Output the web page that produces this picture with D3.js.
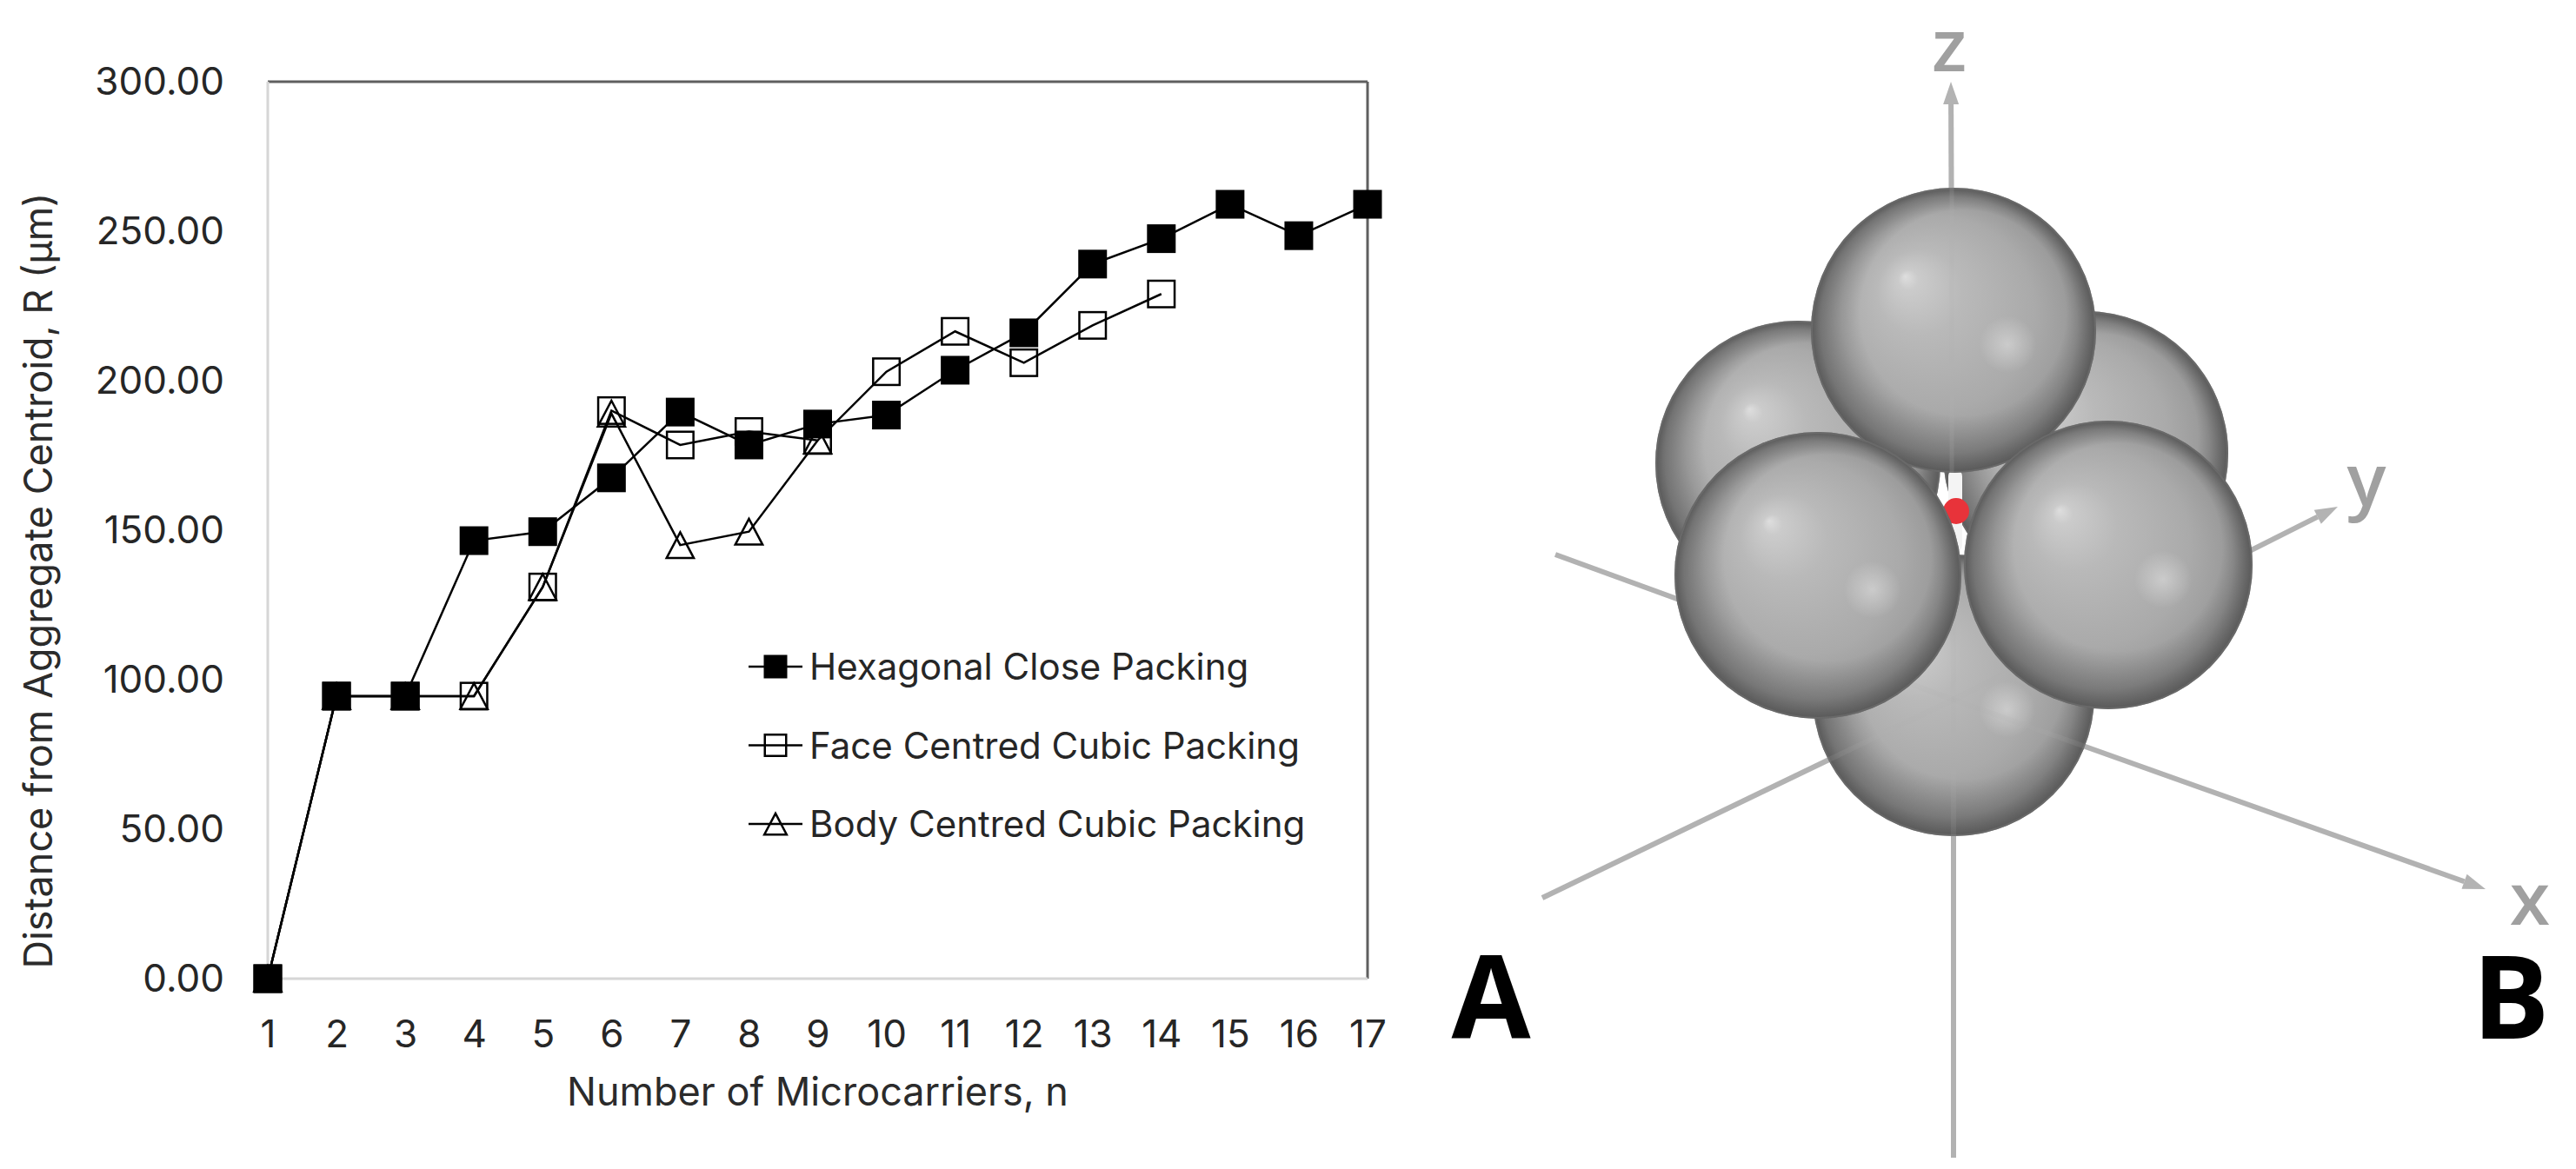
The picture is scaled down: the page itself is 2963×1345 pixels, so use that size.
<!DOCTYPE html>
<html>
<head>
<meta charset="utf-8">
<script src="https://cdn.jsdelivr.net/npm/d3@7"></script>
<style>
  html, body { margin: 0; padding: 0; background: #ffffff; }
  svg { display: block; }
</style>
</head>
<body>
<svg id="chart"></svg>
<script>
// data
const nValues = d3.range(1, 18);
const yTicks = [0, 50, 100, 150, 200, 250, 300];
const hcpValues = [0, 94.5, 94.5, 146.5, 149.5, 167.5, 189.5, 178.5, 185.5, 188.5, 203.5, 216, 239, 247.5, 259, 248.5, 259];
const fccValues = [0, 94.5, 94.5, 94.5, 131, 190, 178.5, 183, 180, 203, 216.5, 206, 218.5, 229];
const bccValues = [0, 94.5, 94.5, 94.5, 131, 189, 145, 149.5, 180];
const seriesNames = ["Hexagonal Close Packing", "Face Centred Cubic Packing", "Body Centred Cubic Packing"];

const width = 2963;
const height = 1345;
const plot = { left: 308, right: 1573, top: 94, bottom: 1126 };
const font = "Inter, 'Open Sans', sans-serif";

const svg = d3.select("#chart")
    .attr("width", width)
    .attr("height", height);

svg.append("rect").attr("width", width).attr("height", height).attr("fill", "#fff");

const x = d3.scaleLinear().domain([1, 17]).range([plot.left, plot.right]);
const y = d3.scaleLinear().domain([0, 300]).range([plot.bottom, plot.top]);

// frame: light axis lines, darker top/right border
svg.append("line").attr("x1", plot.left).attr("x2", plot.right).attr("y1", plot.top).attr("y2", plot.top)
    .attr("stroke", "#5f5f5f").attr("stroke-width", 3);
svg.append("line").attr("x1", plot.right).attr("x2", plot.right).attr("y1", plot.top).attr("y2", plot.bottom)
    .attr("stroke", "#5f5f5f").attr("stroke-width", 3);
svg.append("line").attr("x1", plot.left).attr("x2", plot.left).attr("y1", plot.top).attr("y2", plot.bottom)
    .attr("stroke", "#d6d6d6").attr("stroke-width", 3);
svg.append("line").attr("x1", plot.left).attr("x2", plot.right).attr("y1", plot.bottom).attr("y2", plot.bottom)
    .attr("stroke", "#d6d6d6").attr("stroke-width", 3);

// axes
const yAxis = svg.append("g")
    .attr("transform", `translate(${plot.left},0)`)
    .call(d3.axisLeft(y).tickValues(yTicks).tickFormat(d3.format(".2f")).tickSize(0).tickPadding(50));
const xAxis = svg.append("g")
    .attr("transform", `translate(0,${plot.bottom})`)
    .call(d3.axisBottom(x).tickValues(nValues).tickFormat(d3.format("d")).tickSize(0).tickPadding(48));
[yAxis, xAxis].forEach(g => {
    g.select(".domain").remove();
    g.selectAll("text")
        .attr("font-family", font)
        .attr("font-size", 44)
        .attr("fill", "#262626");
});

// axis titles
svg.append("text")
    .attr("x", (plot.left + plot.right) / 2)
    .attr("y", 1272)
    .attr("text-anchor", "middle")
    .attr("font-family", font)
    .attr("font-size", 45)
    .attr("fill", "#2b2b2b")
    .text("Number of Microcarriers, n");

svg.append("text")
    .attr("transform", "translate(60,668) rotate(-90)")
    .attr("text-anchor", "middle")
    .attr("font-family", font)
    .attr("font-size", 45)
    .attr("fill", "#2b2b2b")
    .text("Distance from Aggregate Centroid, R (μm)");

// series
const toPoints = vals => vals.map((v, i) => ({ n: nValues[i], v: v }));
const series = [
    { name: seriesNames[0], pts: toPoints(hcpValues), marker: "filled" },
    { name: seriesNames[1], pts: toPoints(fccValues), marker: "open" },
    { name: seriesNames[2], pts: toPoints(bccValues), marker: "tri" }
];

const line = d3.line().x(d => x(d.n)).y(d => y(d.v));

// draws one marker of the given kind at (cx, cy)
function drawMarker(g, kind, cx, cy, s) {
    if (kind === "filled") {
        g.append("rect")
            .attr("x", cx - s / 2).attr("y", cy - s / 2)
            .attr("width", s).attr("height", s)
            .attr("fill", "#000");
    } else if (kind === "open") {
        g.append("rect")
            .attr("x", cx - s / 2 + 1.25).attr("y", cy - s / 2 + 1.25)
            .attr("width", s - 2.5).attr("height", s - 2.5)
            .attr("fill", "none").attr("stroke", "#000").attr("stroke-width", 2.5);
    } else {
        const h = s * 0.9;
        const w = s * 0.95;
        g.append("path")
            .attr("d", `M${cx},${cy - h / 2} L${cx + w / 2},${cy + h / 2} L${cx - w / 2},${cy + h / 2} Z`)
            .attr("fill", "none").attr("stroke", "#000").attr("stroke-width", 2.5)
            .attr("stroke-linejoin", "miter");
    }
}

const drawOrder = [series[2], series[1], series[0]];
drawOrder.forEach(s => {
    svg.append("path")
        .datum(s.pts)
        .attr("fill", "none")
        .attr("stroke", "#000")
        .attr("stroke-width", 2.5)
        .attr("d", line);
});
const markerG = svg.append("g");
drawOrder.forEach(s => {
    s.pts.forEach(d => drawMarker(markerG, s.marker, x(d.n), y(d.v), 33));
});

// legend
const legend = svg.append("g");
series.forEach((s, i) => {
    const ly = 767 + i * 90.5;
    legend.append("line")
        .attr("x1", 861).attr("x2", 923).attr("y1", ly).attr("y2", ly)
        .attr("stroke", "#000").attr("stroke-width", 2.5);
    drawMarker(legend, s.marker, 892, ly, 27);
    legend.append("text")
        .attr("x", 931).attr("y", ly)
        .attr("dy", "0.36em")
        .attr("font-family", font)
        .attr("font-size", 42)
        .attr("fill", "#262626")
        .text(s.name);
});

// panel letters
[["A", 1715], ["B", 2888]].forEach(([t, cx]) => {
    svg.append("text")
        .attr("x", cx).attr("y", 1195)
        .attr("text-anchor", "middle")
        .attr("font-family", "'Open Sans', 'Noto Sans', sans-serif")
        .attr("font-weight", 700)
        .attr("font-size", 132)
        .attr("fill", "#000")
        .text(t);
});

// ---- panel B: rendered sphere cluster ----
const origin = [2247, 805];
const axisEnds = [
    { to: [2244, 94], arrow: true, label: "z", lx: 2242, ly: 82 },
    { to: [2247, 1332], arrow: false },
    { to: [2859, 1023], arrow: true, label: "x", lx: 2910, ly: 1064 },
    { to: [1774, 1033], arrow: false },
    { to: [2689, 583], arrow: true, label: "y", lx: 2722, ly: 582 },
    { to: [1789, 638], arrow: false }
];
const backSpheres = [
    { cx: 2068, cy: 533, r: 164 },
    { cx: 2399, cy: 522, r: 164 },
    { cx: 2247, cy: 800, r: 162 }
];
const frontSpheres = [
    { cx: 2247, cy: 380, r: 164 },
    { cx: 2091, cy: 662, r: 165 },
    { cx: 2425, cy: 650, r: 166 }
];

const defs = svg.append("defs");
const grad = defs.append("radialGradient")
    .attr("id", "sphereGrad")
    .attr("cx", "50%").attr("cy", "50%").attr("r", "50%")
    .attr("fx", "33%").attr("fy", "31%");
[[0, "#dedede"], [0.07, "#cbcbcb"], [0.3, "#b9b9b9"], [0.68, "#aaaaaa"], [0.9, "#989898"], [1, "#7e7e7e"]]
    .forEach(([o, c]) => grad.append("stop").attr("offset", o).attr("stop-color", c));
const shade = defs.append("radialGradient")
    .attr("id", "sphereShade")
    .attr("cx", "50%").attr("cy", "50%").attr("r", "50%")
    .attr("fx", "62%").attr("fy", "28%");
[[0, "#000", 0], [0.72, "#000", 0], [1, "#000", 0.3]]
    .forEach(([o, c, a]) => shade.append("stop").attr("offset", o).attr("stop-color", c).attr("stop-opacity", a));
const spot = defs.append("radialGradient").attr("id", "spotGrad");
[[0, "#fff", 0.36], [1, "#fff", 0]]
    .forEach(([o, c, a]) => spot.append("stop").attr("offset", o).attr("stop-color", c).attr("stop-opacity", a));

const axisColor = "#b3b3b3";

function drawAxes(g, opacity, withHeads) {
    axisEnds.forEach(a => {
        const dx = a.to[0] - origin[0], dy = a.to[1] - origin[1];
        const len = Math.hypot(dx, dy);
        const ux = dx / len, uy = dy / len;
        const headLen = a.arrow ? 26 : 0;
        g.append("line")
            .attr("x1", origin[0]).attr("y1", origin[1])
            .attr("x2", a.to[0] - ux * headLen).attr("y2", a.to[1] - uy * headLen)
            .attr("stroke", axisColor).attr("stroke-width", 6)
            .attr("stroke-opacity", opacity);
        if (a.arrow && withHeads) {
            const bx = a.to[0] - ux * headLen, by = a.to[1] - uy * headLen;
            const px = -uy * 9, py = ux * 9;
            g.append("path")
                .attr("d", `M${a.to[0]},${a.to[1]} L${bx + px},${by + py} L${bx - px},${by - py} Z`)
                .attr("fill", axisColor);
            g.append("text")
                .attr("x", a.lx).attr("y", a.ly)
                .attr("text-anchor", "middle")
                .attr("font-family", "'Open Sans', sans-serif")
                .attr("font-weight", 600)
                .attr("font-size", 84)
                .attr("fill", "#a0a0a0")
                .text(a.label);
        }
    });
}

function drawSphere(g, s) {
    g.append("circle").attr("cx", s.cx).attr("cy", s.cy).attr("r", s.r)
        .attr("fill", "url(#sphereGrad)");
    g.append("circle").attr("cx", s.cx).attr("cy", s.cy).attr("r", s.r)
        .attr("fill", "url(#sphereShade)");
    g.append("circle").attr("cx", s.cx + s.r * 0.38).attr("cy", s.cy + s.r * 0.1).attr("r", s.r * 0.2)
        .attr("fill", "url(#spotGrad)");
    g.append("circle").attr("cx", s.cx).attr("cy", s.cy).attr("r", s.r - 1)
        .attr("fill", "none").attr("stroke", "#777").attr("stroke-width", 2).attr("stroke-opacity", 0.5);
}

drawAxes(svg.append("g"), 1, true);
const sphereG = svg.append("g");
backSpheres.forEach(s => drawSphere(sphereG, s));
// faint axes seen through the translucent spheres
drawAxes(sphereG.append("g"), 0.14, false);

// gap between the spheres with the red centroid
sphereG.append("rect")
    .attr("x", 2241).attr("y", 540).attr("width", 16).attr("height", 95).attr("rx", 8)
    .attr("fill", "#f4f4f4");
sphereG.append("circle")
    .attr("cx", 2250).attr("cy", 588).attr("r", 15)
    .attr("fill", "#e8333a");

frontSpheres.forEach((s, i) => {
    drawSphere(sphereG, s);
    if (i === 0) {
        sphereG.append("line")
            .attr("x1", 2245).attr("y1", s.cy - s.r).attr("x2", 2245).attr("y2", s.cy + s.r)
            .attr("stroke", axisColor).attr("stroke-width", 5).attr("stroke-opacity", 0.18);
    }
});
</script>
</body>
</html>
